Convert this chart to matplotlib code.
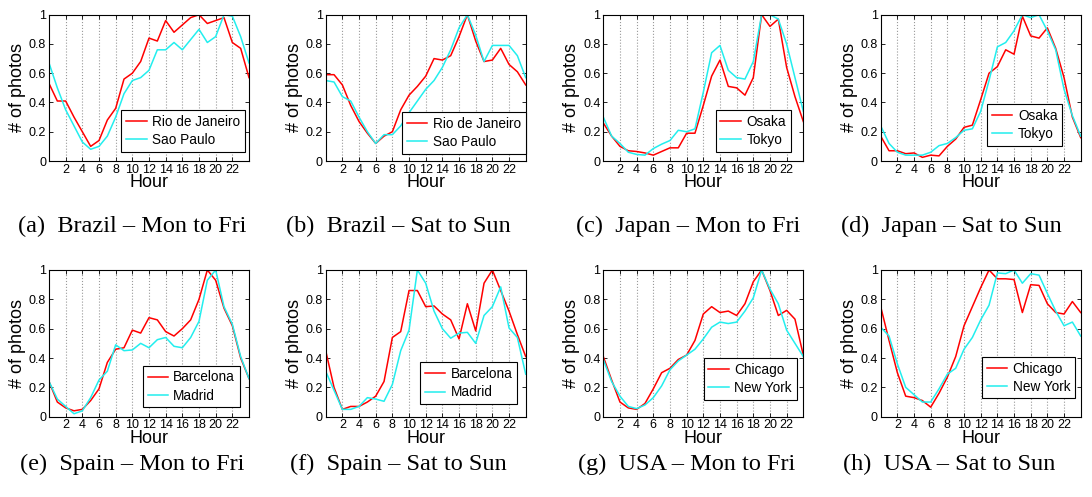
import matplotlib
matplotlib.use("Agg")
import matplotlib.pyplot as plt
import numpy as np

hours = list(range(25))

brazil_wd_rio = [0.53, 0.41, 0.41, 0.30, 0.20, 0.10, 0.14, 0.28, 0.36, 0.56, 0.60, 0.68, 0.84, 0.82, 0.96, 0.88, 0.93, 0.98, 1.00, 0.94, 0.96, 0.98, 0.81, 0.77, 0.57]
brazil_wd_sao = [0.67, 0.50, 0.35, 0.24, 0.13, 0.08, 0.10, 0.17, 0.30, 0.46, 0.55, 0.57, 0.62, 0.76, 0.76, 0.81, 0.76, 0.83, 0.90, 0.81, 0.85, 1.00, 0.99, 0.85, 0.67]
brazil_we_rio = [0.59, 0.59, 0.52, 0.38, 0.27, 0.19, 0.12, 0.17, 0.20, 0.35, 0.45, 0.51, 0.58, 0.70, 0.69, 0.72, 0.85, 1.00, 0.82, 0.68, 0.69, 0.77, 0.66, 0.61, 0.52]
brazil_we_sao = [0.55, 0.54, 0.44, 0.41, 0.30, 0.20, 0.12, 0.18, 0.18, 0.24, 0.33, 0.41, 0.49, 0.55, 0.64, 0.76, 0.91, 1.00, 0.86, 0.68, 0.79, 0.79, 0.79, 0.72, 0.57]

japan_wd_osaka = [0.26, 0.17, 0.10, 0.07, 0.065, 0.055, 0.04, 0.065, 0.09, 0.09, 0.19, 0.19, 0.38, 0.58, 0.69, 0.51, 0.50, 0.45, 0.57, 1.00, 0.92, 0.97, 0.64, 0.44, 0.27]
japan_wd_tokyo = [0.30, 0.17, 0.12, 0.06, 0.045, 0.04, 0.085, 0.115, 0.14, 0.21, 0.20, 0.22, 0.47, 0.74, 0.79, 0.62, 0.57, 0.56, 0.68, 1.00, 1.00, 0.97, 0.80, 0.57, 0.34]
japan_we_osaka = [0.17, 0.07, 0.07, 0.05, 0.055, 0.025, 0.04, 0.035, 0.10, 0.15, 0.23, 0.245, 0.42, 0.60, 0.645, 0.76, 0.73, 0.99, 0.855, 0.84, 0.91, 0.77, 0.57, 0.30, 0.16]
japan_we_tokyo = [0.24, 0.12, 0.06, 0.04, 0.04, 0.04, 0.06, 0.105, 0.12, 0.16, 0.21, 0.22, 0.34, 0.55, 0.78, 0.81, 0.89, 1.00, 0.98, 1.00, 0.89, 0.76, 0.49, 0.31, 0.17]

spain_wd_bcn = [0.24, 0.10, 0.06, 0.04, 0.05, 0.11, 0.19, 0.37, 0.46, 0.47, 0.59, 0.57, 0.675, 0.66, 0.58, 0.55, 0.60, 0.66, 0.80, 1.00, 0.93, 0.74, 0.62, 0.40, 0.26]
spain_wd_mad = [0.24, 0.12, 0.07, 0.02, 0.04, 0.13, 0.25, 0.31, 0.49, 0.45, 0.455, 0.50, 0.47, 0.525, 0.54, 0.48, 0.47, 0.54, 0.65, 0.93, 1.00, 0.75, 0.63, 0.41, 0.26]
spain_we_bcn = [0.45, 0.20, 0.05, 0.07, 0.07, 0.10, 0.14, 0.24, 0.54, 0.58, 0.86, 0.86, 0.75, 0.755, 0.70, 0.66, 0.53, 0.77, 0.585, 0.91, 1.00, 0.86, 0.72, 0.56, 0.41]
spain_we_mad = [0.31, 0.18, 0.05, 0.05, 0.07, 0.13, 0.12, 0.105, 0.22, 0.45, 0.59, 1.00, 0.91, 0.72, 0.60, 0.535, 0.57, 0.575, 0.50, 0.69, 0.75, 0.885, 0.605, 0.54, 0.29]

usa_wd_chi = [0.41, 0.25, 0.10, 0.06, 0.05, 0.09, 0.19, 0.30, 0.33, 0.39, 0.42, 0.52, 0.70, 0.75, 0.71, 0.72, 0.69, 0.77, 0.92, 1.00, 0.86, 0.69, 0.725, 0.665, 0.42]
usa_wd_ny = [0.39, 0.24, 0.14, 0.07, 0.055, 0.08, 0.13, 0.21, 0.32, 0.38, 0.42, 0.46, 0.53, 0.61, 0.645, 0.635, 0.645, 0.72, 0.81, 1.00, 0.87, 0.77, 0.59, 0.50, 0.41]
usa_we_chi = [0.75, 0.52, 0.30, 0.14, 0.13, 0.11, 0.065, 0.16, 0.27, 0.41, 0.62, 0.75, 0.88, 1.00, 0.94, 0.94, 0.935, 0.71, 0.90, 0.895, 0.77, 0.71, 0.70, 0.785, 0.71]
usa_we_ny = [0.61, 0.55, 0.36, 0.20, 0.15, 0.10, 0.10, 0.19, 0.29, 0.33, 0.46, 0.54, 0.66, 0.76, 0.98, 0.975, 1.00, 0.91, 0.975, 0.965, 0.84, 0.72, 0.62, 0.645, 0.55]

captions = ["(a)  Brazil \u2013 Mon to Fri", "(b)  Brazil \u2013 Sat to Sun",
            "(c)  Japan \u2013 Mon to Fri", "(d)  Japan \u2013 Sat to Sun",
            "(e)  Spain \u2013 Mon to Fri", "(f)  Spain \u2013 Sat to Sun",
            "(g)  USA \u2013 Mon to Fri", "(h)  USA \u2013 Sat to Sun"]

panels = [
    (brazil_wd_rio, brazil_wd_sao, "Rio de Janeiro", "Sao Paulo"),
    (brazil_we_rio, brazil_we_sao, "Rio de Janeiro", "Sao Paulo"),
    (japan_wd_osaka, japan_wd_tokyo, "Osaka", "Tokyo"),
    (japan_we_osaka, japan_we_tokyo, "Osaka", "Tokyo"),
    (spain_wd_bcn, spain_wd_mad, "Barcelona", "Madrid"),
    (spain_we_bcn, spain_we_mad, "Barcelona", "Madrid"),
    (usa_wd_chi, usa_wd_ny, "Chicago", "New York"),
    (usa_we_chi, usa_we_ny, "Chicago", "New York"),
]

xticks = list(range(2, 23, 2))
yticks = [0, 0.2, 0.4, 0.6, 0.8, 1.0]
ytick_labels = ["0", "0.2", "0.4", "0.6", "0.8", "1"]

W, H = 1092, 497
fig = plt.figure(figsize=(W / 100, H / 100), dpi=100)
plt.rcParams['font.family'] = ['Liberation Sans', 'DejaVu Sans']

lefts = [49, 325.7, 603.3, 880.7]
tops = [(14.7, 161), (270, 416.7)]
legend_anchor = [(0.98, 0.064), (1.0, 0.048), (0.937, 0.064), (0.908, 0.103),
                 (0.955, 0.064), (0.958, 0.086), (0.967, 0.114), (0.972, 0.125)]
cap_x = [132, 398, 688, 951, 132, 398, 687, 949]
cap_y = [226, 226, 226, 226, 464, 464, 464, 464]

for i, (r, c, lr, lc) in enumerate(panels):
    row, col = divmod(i, 4)
    t, b = tops[row]
    ax = fig.add_axes([lefts[col] / W, 1 - b / H, 200 / W, (b - t) / H])
    ax.plot(hours, r, color='#ff0000', lw=1.1, label=lr)
    ax.plot(hours, c, color='#22eeee', lw=1.1, label=lc)
    ax.set_xlim(0, 24)
    ax.set_ylim(0, 1)
    ax.set_xticks(xticks)
    ax.set_yticks(yticks)
    ax.set_yticklabels(ytick_labels)
    ax.tick_params(direction='in', top=True, right=True, labelsize=9, length=3,
                   width=0.6, pad=2)
    ax.xaxis.grid(True, linestyle=':', color='#999999', lw=0.8)
    for s in ax.spines.values():
        s.set_linewidth(0.8)
    ax.set_xlabel("Hour", fontsize=13, labelpad=-1)
    ax.set_ylabel("# of photos", fontsize=13, labelpad=2)
    leg = ax.legend(loc='lower right', bbox_to_anchor=legend_anchor[i],
                    fontsize=9.8, frameon=True, fancybox=False, framealpha=1,
                    edgecolor='black', handlelength=1.5, borderpad=0.35,
                    labelspacing=0.3, handletextpad=0.4, borderaxespad=0)
    leg.get_frame().set_linewidth(0.8)
    fig.text(cap_x[i] / W, 1 - cap_y[i] / H, captions[i], ha='center', va='center',
             fontsize=17.5, family=['Liberation Serif', 'DejaVu Serif'])

fig.savefig("out.png", dpi=100)
